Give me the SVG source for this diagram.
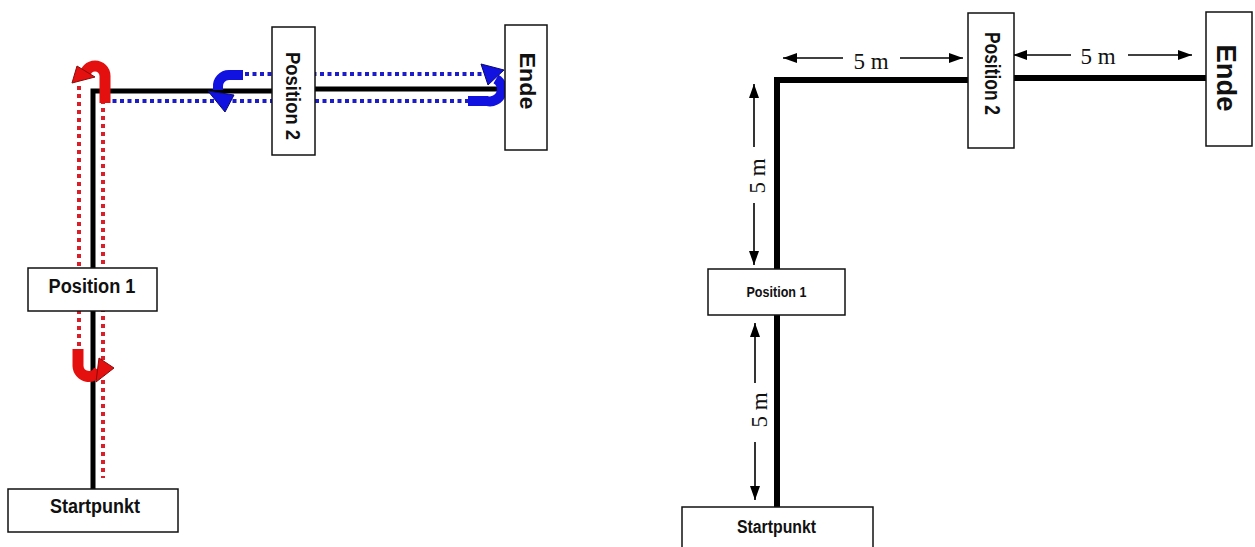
<svg xmlns="http://www.w3.org/2000/svg" width="1255" height="547" viewBox="0 0 1255 547">
<defs>
<style>
.box{fill:#fff;stroke:#111;stroke-width:1.5}
.lbl{font-family:"Liberation Sans",Arial,sans-serif;font-weight:bold;fill:#111;text-anchor:middle}
.dim{font-family:"Liberation Serif","Times New Roman",serif;font-size:23px;fill:#111;text-anchor:middle}
.path{fill:none;stroke:#000;stroke-linecap:square}
.reddot{fill:none;stroke:#d81f2a;stroke-width:4;stroke-dasharray:4 4}
.bluedot{fill:none;stroke:#1c1cc8;stroke-width:4;stroke-dasharray:4 3.5}
.ured{fill:none;stroke:#e3100f;stroke-width:11}
.ublue{fill:none;stroke:#1212e0;stroke-width:10}
.hred{fill:#e3100f;stroke:#8a0a0a;stroke-width:1}
.hblue{fill:#1212e0;stroke:#0a0a70;stroke-width:1}
.dimline{fill:none;stroke:#000;stroke-width:1.6}
</style>
<marker id="ah" viewBox="0 0 14 10" refX="14" refY="5" markerWidth="14" markerHeight="10" markerUnits="userSpaceOnUse" orient="auto">
<path d="M0,0 L14,5 L0,10 z" fill="#000"/>
</marker>
</defs>

<!-- LEFT DIAGRAM -->
<g id="connectors-left">
<path class="path" stroke-width="5" d="M93,489 V91 H272"/>
<path class="path" stroke-width="5" d="M316,89 H500"/>
<path class="reddot" d="M79,86 V348"/>
<path class="reddot" d="M103,100 V478"/>
<path class="bluedot" d="M245,74 H482"/>
<path class="bluedot" d="M105,101 H470"/>
</g>

<g id="uturn-red-top">
<path class="ured" d="M105,103 V76 A10,10 0 0 0 85,76 V77"/>
<polygon class="hred" points="72,83 77,66 95,77"/>
</g>
<g id="uturn-red-bottom">
<path class="ured" d="M78,349 V366 A11,11 0 0 0 99,370"/>
<polygon class="hred" points="114,368 99,358 96,382"/>
</g>
<g id="uturn-blue-left">
<path class="ublue" d="M243,75 H229 A11,11 0 0 0 218,87 V90"/>
<polygon class="hblue" points="208,91 234,95 225,112"/>
</g>
<g id="uturn-blue-right">
<path class="ublue" d="M468,101 H487 A12,12 0 0 0 496,79"/>
<polygon class="hblue" points="481,64 488,85 504,70"/>
</g>

<g id="left-position2">
<rect class="box" x="272" y="27" width="43" height="128"/>
<text class="lbl" font-size="20" transform="translate(293,96) rotate(90)" x="0" y="7" textLength="88" lengthAdjust="spacingAndGlyphs">Position 2</text>
</g>
<g id="left-ende">
<rect class="box" x="505" y="25" width="42" height="125"/>
<text class="lbl" font-size="22" transform="translate(527,81) rotate(90)" x="0" y="7" textLength="57" lengthAdjust="spacingAndGlyphs">Ende</text>
</g>
<g id="left-position1">
<rect class="box" x="28" y="268" width="129" height="43"/>
<text class="lbl" font-size="20" x="92" y="293" textLength="87" lengthAdjust="spacingAndGlyphs">Position 1</text>
</g>
<g id="left-startpunkt">
<rect class="box" x="8" y="489" width="170" height="43"/>
<text class="lbl" font-size="20" x="95" y="513" textLength="90" lengthAdjust="spacingAndGlyphs">Startpunkt</text>
</g>

<!-- RIGHT DIAGRAM -->
<g id="connectors-right">
<path class="path" stroke-width="6" d="M777,507 V80 H968"/>
<path class="path" stroke-width="6" d="M1014,78 H1206"/>
</g>

<g id="dimensions">
<path class="dimline" marker-end="url(#ah)" d="M843,58 H783"/>
<path class="dimline" marker-end="url(#ah)" d="M900,58 H963"/>
<text class="dim" x="871" y="68.5">5 m</text>

<path class="dimline" marker-end="url(#ah)" d="M1071,55 H1013"/>
<path class="dimline" marker-end="url(#ah)" d="M1128,55 H1192"/>
<text class="dim" x="1098" y="64">5 m</text>

<path class="dimline" marker-end="url(#ah)" d="M754,147 V84"/>
<path class="dimline" marker-end="url(#ah)" d="M754,203 V265"/>
<text class="dim" transform="translate(765,176) rotate(-90)" x="0" y="0">5 m</text>

<path class="dimline" marker-end="url(#ah)" d="M755,383 V323"/>
<path class="dimline" marker-end="url(#ah)" d="M755,442 V500"/>
<text class="dim" transform="translate(767,410) rotate(-90)" x="0" y="0">5 m</text>
</g>

<g id="right-position2">
<rect class="box" x="968" y="13" width="46" height="135"/>
<text class="lbl" font-size="22" transform="translate(992,73.5) rotate(90)" x="0" y="7" textLength="83" lengthAdjust="spacingAndGlyphs">Position 2</text>
</g>
<g id="right-ende">
<rect class="box" x="1206" y="12" width="46" height="134"/>
<text class="lbl" font-size="27" transform="translate(1227,78) rotate(90)" x="0" y="10" textLength="67" lengthAdjust="spacingAndGlyphs">Ende</text>
</g>
<g id="right-position1">
<rect class="box" x="708" y="269" width="137" height="46"/>
<text class="lbl" font-size="15" x="776.5" y="297" textLength="60" lengthAdjust="spacingAndGlyphs">Position 1</text>
</g>
<g id="right-startpunkt">
<rect class="box" x="682" y="507" width="191" height="50"/>
<text class="lbl" font-size="18" x="776.5" y="533" textLength="79" lengthAdjust="spacingAndGlyphs">Startpunkt</text>
</g>
</svg>
